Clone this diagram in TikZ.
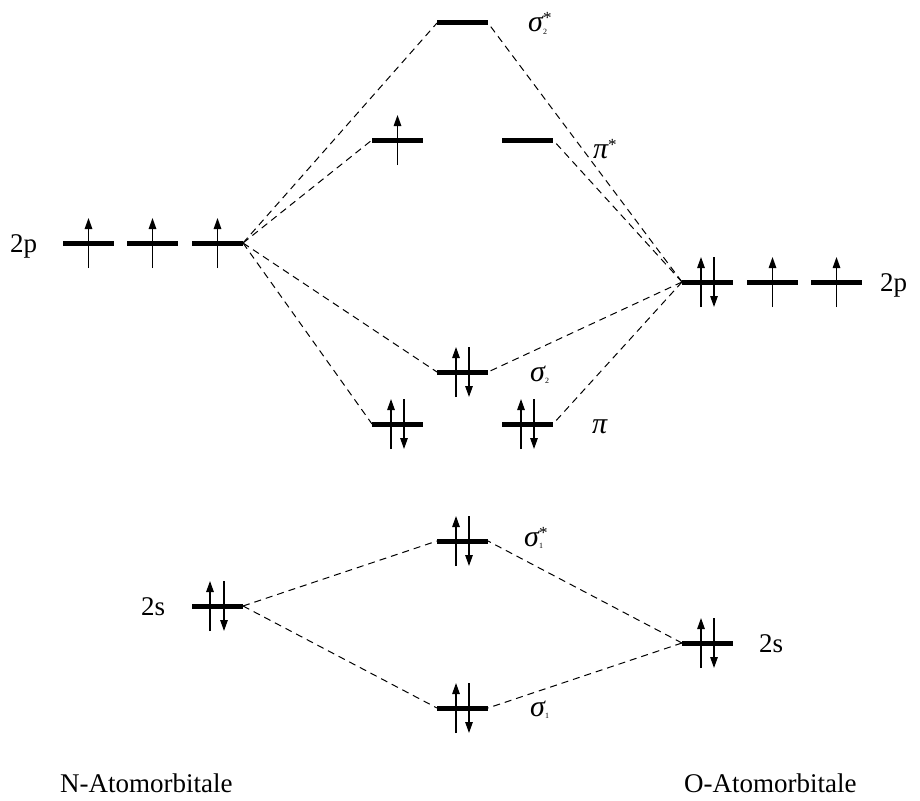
\documentclass[tikz,border=0pt]{standalone}
\usepackage{fontspec}
\setmainfont{Liberation Serif}
\usetikzlibrary{arrows.meta,calc}

\tikzset{
  orbital/.style={line width=5pt},
  spin/.style={line width=1.3pt,-{Triangle[length=11pt,width=7.5pt]}},
  corr/.style={line width=1pt,dash pattern=on 7pt off 5pt},
  lbl/.style={font=\fontsize{27}{27}\selectfont,inner sep=0pt,anchor=base west},
  mo/.style={font=\fontsize{30}{30}\selectfont\itshape,inner sep=0pt,anchor=base west},
}

% energy level: name, left x, y  (51 units long)
\newcommand\orb[3]{%
  \coordinate (#1-l) at (#2,#3);
  \coordinate (#1-r) at (#2+51,#3);
  \coordinate (#1-c) at (#2+25.5,#3);
  \draw[orbital] (#1-l) -- (#1-r);}
% electrons: level name, horizontal offset from the level centre
\newcommand\eup[2]{\draw[spin] ($(#1-c)+(#2,25)$) -- ($(#1-c)+(#2,-25)$);}
\newcommand\edown[2]{\draw[spin] ($(#1-c)+(#2,-25)$) -- ($(#1-c)+(#2,25)$);}
\newcommand\epair[1]{\eup{#1}{-6.5}\edown{#1}{6.5}}
% small index and star of the MO labels
\newcommand\idx[1]{\rlap{\raisebox{-2pt}{\upshape\fontsize{8}{8}\selectfont #1}}}
\newcommand\str{\raisebox{8pt}{\upshape\fontsize{17}{17}\selectfont *}}

\begin{document}
\begin{tikzpicture}[x=1pt,y=-1pt]
\useasboundingbox (0,0) rectangle (920,800);

% N atomic orbitals
\orb{Np1}{63}{243}
\orb{Np2}{127}{243}
\orb{Np3}{192}{243}
\orb{Ns}{192}{606}
% O atomic orbitals
\orb{Op1}{682}{282}
\orb{Op2}{747}{282}
\orb{Op3}{811}{282}
\orb{Os}{682}{643}
% molecular orbitals
\orb{sigBs}{437}{23}
\orb{piAa}{372}{140}
\orb{piAb}{502}{140}
\orb{sigB}{437}{372}
\orb{piBa}{372}{424}
\orb{piBb}{502}{424}
\orb{sigAs}{437}{541}
\orb{sigA}{437}{708}

% electrons
\eup{Np1}{0}\eup{Np2}{0}\eup{Np3}{0}
\epair{Op1}\eup{Op2}{0}\eup{Op3}{0}
\eup{Ns}{-7.5}\edown{Ns}{6.5}
\epair{Os}
\eup{piAa}{0}
\epair{sigB}\epair{piBa}\epair{piBb}
\epair{sigAs}\epair{sigA}

% correlation lines, 2p
\draw[corr] (Np3-r) -- (sigBs-l);
\draw[corr] (Np3-r) -- (piAa-l);
\draw[corr] (Np3-r) -- (sigB-l);
\draw[corr] (Np3-r) -- (piBa-l);
\draw[corr] (Op1-l) -- (sigBs-r);
\draw[corr] (Op1-l) -- (piAb-r);
\draw[corr] (Op1-l) -- (sigB-r);
\draw[corr] (Op1-l) -- (piBb-r);
% correlation lines, 2s
\draw[corr] (Ns-r) -- (sigAs-l);
\draw[corr] (Ns-r) -- (sigA-l);
\draw[corr] (Os-l) -- (sigAs-r);
\draw[corr] (Os-l) -- (sigA-r);

% MO labels
\node[mo] (lsigBs) at (528,32) {σ\idx{2}\str};
\node[mo] (lpiA) at (593,158) {π\str};
\node[mo] (lsigB) at (530,381) {σ\idx{2}};
\node[mo] (lpiB) at (592,433) {π};
\node[mo] (lsigAs) at (524,546) {σ\idx{1}\str};
\node[mo] (lsigA) at (530,716) {σ\idx{1}};

% AO labels
\node[lbl] (l2pN) at (10,252) {2p};
\node[lbl] (l2pO) at (880,291) {2p};
\node[lbl] (l2sN) at (141,615) {2s};
\node[lbl] (l2sO) at (759,652) {2s};
\node[lbl] (lN) at (60,792) {N-Atomorbitale};
\node[lbl] (lO) at (684,792) {O-Atomorbitale};
\end{tikzpicture}
\end{document}
